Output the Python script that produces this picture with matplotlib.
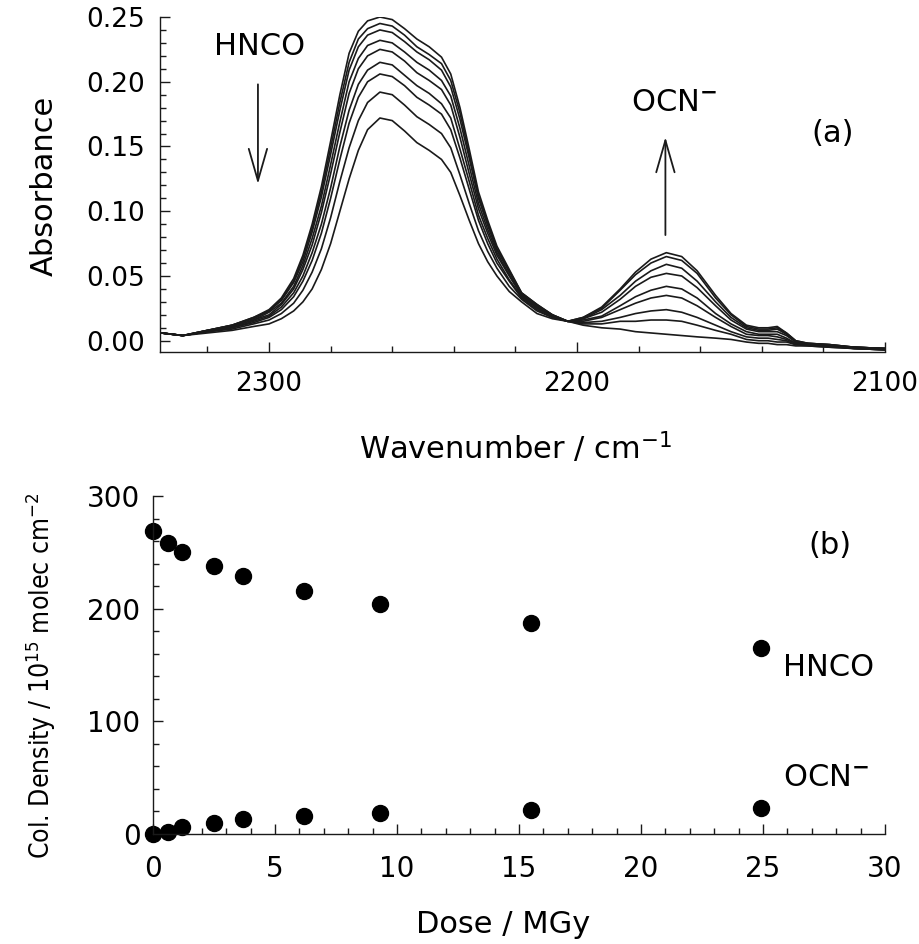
import matplotlib
matplotlib.use('Agg')
import matplotlib.pyplot as plt
from matplotlib import font_manager
from matplotlib.font_manager import FontProperties
from matplotlib.ticker import MultipleLocator, FormatStrFormatter

# ---- panel (a): IR spectra, one per dose ----
wavenumber = [2335, 2328, 2320, 2312, 2305, 2300, 2296, 2292, 2289, 2286,
              2283, 2280, 2277, 2274, 2271, 2268, 2264, 2260, 2256, 2252,
              2248, 2244, 2241, 2238, 2235, 2232, 2229, 2226, 2222, 2218,
              2213, 2208, 2203, 2198, 2192, 2186, 2181, 2176, 2171, 2166,
              2161, 2155, 2150, 2145, 2141, 2138, 2135, 2132, 2129, 2125,
              2118, 2110, 2100]

abs_0p0 = [.006, .004, .008, .012, .018, .024, .033, .048, .066, .090,
           .119, .154, .190, .222, .239, .247, .250, .248, .241, .233,
           .227, .219, .206, .180, .148, .115, .093, .073, .055, .037,
           .028, .020, .015, .012, .010, .009, .007, .006, .005, .004,
           .003, .002, .001, -.001, -.002, -.002, -.003, -.003, -.004, -.004,
           -.005, -.006, -.007]
abs_0p6 = [.006, .004, .008, .012, .018, .023, .032, .046, .064, .087,
           .115, .149, .184, .215, .233, .241, .245, .243, .236, .227,
           .221, .214, .201, .176, .144, .112, .091, .071, .054, .037,
           .028, .020, .015, .013, .013, .015, .015, .016, .016, .015,
           .012, .008, .005, .001, .000, .000, -.001, -.001, -.003, -.004,
           -.005, -.006, -.007]
abs_1p2 = [.006, .004, .008, .012, .017, .023, .031, .045, .061, .084,
           .111, .144, .178, .209, .227, .236, .240, .238, .231, .223,
           .217, .209, .196, .171, .141, .110, .089, .070, .053, .036,
           .027, .020, .015, .014, .015, .018, .021, .023, .024, .022,
           .018, .012, .007, .003, .002, .002, .001, .000, -.003, -.003,
           -.004, -.006, -.007]
abs_2p5 = [.006, .004, .008, .011, .016, .022, .029, .042, .058, .079,
           .104, .136, .169, .200, .218, .228, .232, .230, .223, .215,
           .209, .201, .189, .164, .135, .106, .086, .068, .051, .035,
           .026, .019, .015, .015, .018, .024, .029, .033, .035, .033,
           .027, .018, .011, .005, .004, .004, .003, .001, -.002, -.003,
           -.004, -.006, -.007]
abs_3p7 = [.006, .004, .007, .011, .016, .020, .028, .040, .055, .074,
           .099, .129, .161, .191, .210, .220, .225, .223, .216, .207,
           .201, .194, .182, .157, .129, .102, .083, .066, .050, .035,
           .026, .019, .015, .016, .019, .027, .034, .039, .042, .040,
           .033, .021, .013, .007, .005, .005, .005, .002, -.002, -.003,
           -.004, -.005, -.006]
abs_6p2 = [.006, .004, .007, .010, .015, .019, .026, .037, .050, .068,
           .090, .118, .150, .178, .198, .209, .215, .213, .205, .197,
           .191, .183, .172, .148, .123, .097, .079, .063, .047, .034,
           .025, .019, .015, .017, .022, .032, .042, .049, .052, .050,
           .041, .027, .016, .009, .007, .007, .007, .004, -.001, -.003,
           -.004, -.005, -.006]
abs_9p3 = [.006, .004, .007, .010, .014, .018, .024, .034, .046, .062,
           .083, .110, .140, .168, .188, .200, .206, .204, .197, .188,
           .182, .175, .163, .141, .117, .093, .075, .060, .046, .033,
           .024, .018, .015, .017, .024, .035, .046, .054, .059, .056,
           .046, .030, .018, .010, .008, .008, .009, .005, -.001, -.002,
           -.003, -.005, -.006]
abs_15p5 = [.006, .004, .007, .009, .013, .016, .021, .029, .039, .053,
            .071, .095, .123, .149, .170, .184, .192, .190, .182, .173,
            .167, .160, .149, .128, .106, .085, .069, .056, .042, .032,
            .023, .018, .015, .018, .025, .039, .051, .060, .065, .062,
            .052, .033, .020, .011, .009, .009, .010, .006, .000, -.002,
            -.003, -.005, -.006]
abs_24p9 = [.006, .004, .006, .008, .011, .013, .017, .023, .030, .040,
            .055, .075, .100, .125, .147, .163, .172, .170, .162, .153,
            .147, .140, .130, .112, .093, .075, .061, .050, .038, .030,
            .021, .017, .015, .018, .026, .040, .053, .063, .068, .065,
            .054, .035, .021, .012, .010, .010, .011, .006, .000, -.002,
            -.003, -.005, -.006]
spectra = [abs_0p0, abs_0p6, abs_1p2, abs_2p5, abs_3p7,
           abs_6p2, abs_9p3, abs_15p5, abs_24p9]

# ---- panel (b): column densities vs dose ----
dose = [0, 0.6, 1.2, 2.5, 3.7, 6.2, 9.3, 15.5, 24.9]
hnco = [269, 258, 250, 238, 229, 216, 204, 187, 165]
ocn = [0, 2, 6, 10, 13, 16, 19, 21, 23]

plt.rcParams['font.family'] = ['DejaVu Sans']

# a narrow face for the long rotated label of panel (b), if one is installed
label_font, label_size = FontProperties(family='Liberation Sans'), 20
for key, size in (('LiberationSansNarrow-Regular', 24),
                  ('DejaVuSansCondensed.ttf', 19)):
    hits = [f.fname for f in font_manager.fontManager.ttflist if key in f.fname]
    if hits:
        label_font, label_size = FontProperties(fname=hits[0]), size
        break

ink = '#1a1a1a'
W, H = 920, 944
fig = plt.figure(figsize=(W / 100, H / 100), dpi=100)


def style(ax, size, pad):
    for s in ('top', 'right'):
        ax.spines[s].set_visible(False)
    for s in ('left', 'bottom'):
        ax.spines[s].set_linewidth(1.0)
        ax.spines[s].set_color(ink)
    ax.tick_params(which='both', direction='in', color=ink, width=1.0,
                   labelsize=size)
    ax.tick_params(which='major', length=7)
    ax.tick_params(which='minor', length=4)
    ax.tick_params(axis='x', pad=pad[0])
    ax.tick_params(axis='y', pad=pad[1])


# top panel
ax1 = fig.add_axes([160 / W, 1 - 352 / H, 725 / W, (352 - 17) / H])
for sp in spectra:
    ax1.plot(wavenumber, sp, color=ink, lw=1.2)
ax1.set_xlim(2335.4, 2100)
ax1.set_ylim(-0.0087, 0.25)
ax1.xaxis.set_major_locator(MultipleLocator(100))
ax1.xaxis.set_minor_locator(MultipleLocator(20))
ax1.yaxis.set_major_locator(MultipleLocator(0.05))
ax1.yaxis.set_minor_locator(MultipleLocator(0.01))
ax1.yaxis.set_major_formatter(FormatStrFormatter('%.2f'))
style(ax1, 19, (14, 11))
ax1.set_xlabel(r'Wavenumber / cm$^{\mathregular{-1}}$', fontsize=22)
ax1.xaxis.set_label_coords(0.49, -0.286)
ax1.xaxis.label.set_va('center')
ax1.set_ylabel('Absorbance', fontsize=22)
ax1.yaxis.set_label_coords(-0.159, 0.495)
ax1.yaxis.label.set_va('center')

arrow = dict(arrowstyle='->, head_length=1.15, head_width=0.33',
             lw=1.3, color=ink, mutation_scale=20, shrinkA=0, shrinkB=0)
ax1.text(2303.2, 0.2276, 'HNCO', fontsize=22, ha='center', va='center')
ax1.annotate('', xy=(2303.6, 0.121), xytext=(2303.6, 0.198), arrowprops=arrow)
ax1.text(2168.5, 0.184, 'OCN$^{\\mathbf{-}}$', fontsize=22, ha='center', va='center')
ax1.annotate('', xy=(2171.3, 0.1573), xytext=(2171.3, 0.0816), arrowprops=arrow)
ax1.text(2117, 0.160, '(a)', fontsize=22, ha='center', va='center')

# bottom panel
ax2 = fig.add_axes([153 / W, 1 - 834 / H, 732 / W, 338 / H])
ax2.plot(dose, hnco, 'o', color='black', ms=11.5, clip_on=False)
ax2.plot(dose, ocn, 'o', color='black', ms=11.5, clip_on=False)
ax2.set_xlim(0, 30)
ax2.set_ylim(0, 300)
ax2.xaxis.set_major_locator(MultipleLocator(5))
ax2.xaxis.set_minor_locator(MultipleLocator(1))
ax2.yaxis.set_major_locator(MultipleLocator(100))
ax2.yaxis.set_minor_locator(MultipleLocator(20))
style(ax2, 20, (15, 9))
ax2.set_xlabel('Dose / MGy', fontsize=22)
ax2.xaxis.set_label_coords(0.478, -0.269)
ax2.xaxis.label.set_va('center')
ax2.set_ylabel(r'Col. Density / 10$^{\mathregular{15}}$ molec cm$^{\mathregular{-2}}$',
               fontproperties=label_font, fontsize=label_size)
ax2.yaxis.set_label_coords(-0.154, 0.467)
ax2.yaxis.label.set_va('center')

ax2.text(27.75, 256, '(b)', fontsize=22, ha='center', va='center')
ax2.text(27.7, 148, 'HNCO', fontsize=22, ha='center', va='center')
ax2.text(27.6, 50, 'OCN$^{\\mathbf{-}}$', fontsize=22, ha='center', va='center')

fig.savefig('out.png', dpi=100, facecolor='white')
